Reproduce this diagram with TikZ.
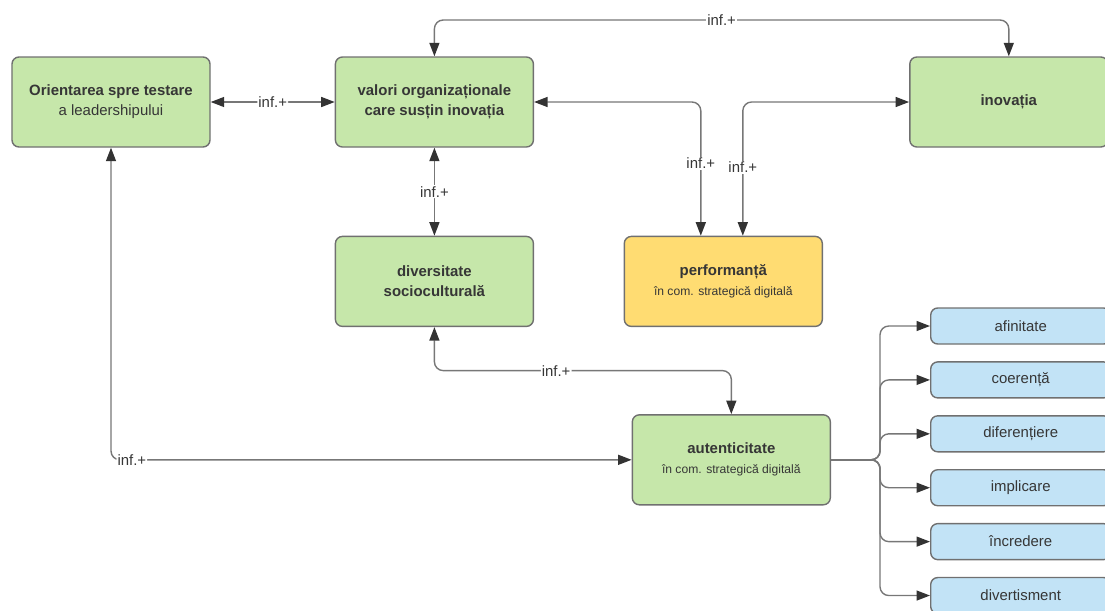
\documentclass[tikz,border=0pt]{standalone}
\usepackage{fontspec}
\setmainfont{Liberation Sans}
\usepackage{xcolor}
\usetikzlibrary{arrows.meta,positioning,calc}

\definecolor{boxgreen}{HTML}{C6E7AA}
\definecolor{boxyellow}{HTML}{FFDC72}
\definecolor{boxblue}{HTML}{C2E3F6}
\definecolor{boxline}{HTML}{707070}
\definecolor{linegray}{HTML}{777777}
\definecolor{tipgray}{HTML}{333333}
\definecolor{txtgray}{HTML}{363636}

\newcommand{\subline}[1]{{\fontsize{6.9}{9}\selectfont #1}}

\begin{document}
\begin{tikzpicture}[
    box/.style={draw=boxline, line width=0.8pt, rounded corners=4pt, fill=boxgreen, text=txtgray,
        minimum width=3.96cm, minimum height=1.8cm, align=center, font=\fontsize{8.5}{11.4}\selectfont},
    smallbox/.style={box, fill=boxblue, minimum width=3.6cm, minimum height=0.72cm},
    arrow/.style={-{Triangle[length=0.27cm, width=0.2cm, color=tipgray]}, draw=linegray, line width=0.8pt, rounded corners=5pt},
    twoway/.style={arrow, {Triangle[length=0.27cm, width=0.2cm, color=tipgray]}-{Triangle[length=0.27cm, width=0.2cm, color=tipgray]}},
    lab/.style={fill=white, inner sep=0.6pt, text=txtgray, font=\fontsize{8.5}{10}\selectfont}
]
    \useasboundingbox (0,0) rectangle (22.1,-12.2);

    \node[box] (ori) at (2.22,-2.04) {\textbf{Orientarea spre testare}\\a leadershipului};
    \node[box, right=2.48cm of ori] (val) {\textbf{valori organizaționale}\\\textbf{care susțin inovația}};
    \node[box, right=7.5cm of val] (ino) {\textbf{inovația}};
    \node[box, below=1.76cm of val] (div) {\textbf{diversitate}\\\textbf{socioculturală}};
    \node[box, fill=boxyellow, right=1.79cm of div] (perf) {\textbf{performanță}\\\subline{în com. strategică digitală}};
    \node[box, below=1.74cm of perf, xshift=0.16cm] (aut) {\textbf{autenticitate}\\\subline{în com. strategică digitală}};

    % dimensiunile autenticitatii
    \node[smallbox, anchor=west] (afi) at (18.6,-6.52) {afinitate};
    \node[smallbox, below=0.33cm of afi] (coe) {coerență};
    \node[smallbox, below=0.33cm of coe] (dif) {diferențiere};
    \node[smallbox, below=0.33cm of dif] (imp) {implicare};
    \node[smallbox, below=0.33cm of imp] (inc) {încredere};
    \node[smallbox, below=0.33cm of inc] (dvt) {divertisment};

    \coordinate (top) at (0,-0.4);
    \coordinate[right=0.98cm of aut.east] (bus);

    \draw[twoway] (ori) -- node[lab] {inf.+} (val);
    \draw[twoway] (val.north) -- (val.north |- top) -- node[lab] {inf.+} (ino.north |- top) -- (ino.north);
    \draw[twoway] (val.east) -| node[lab, pos=0.73] {inf.+} ($(perf.north)+(-0.45,0)$);
    \draw[twoway] (ino.west) -| node[lab, pos=0.745] {inf.+} ($(perf.north)+(0.39,0)$);
    \draw[twoway] (val) -- node[lab] {inf.+} (div);
    \draw[twoway] (div.south) |- node[lab, pos=0.91] {inf.+} ($(div.south)!.5!(aut.north)$) -| (aut.north);
    \draw[twoway] (ori.south) |- node[lab, pos=0.52] {inf.+} (aut.west);

    \foreach \b in {afi,coe,dif,imp,inc,dvt}
        \draw[arrow] (aut.east) -- (bus) |- (\b.west);
\end{tikzpicture}
\end{document}
